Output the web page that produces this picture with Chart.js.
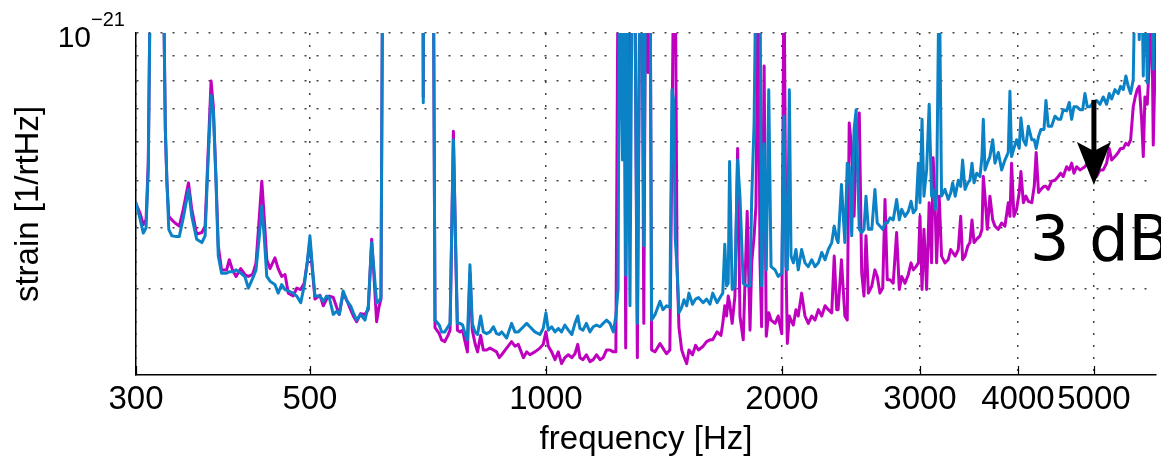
<!doctype html>
<html lang="en">
<head>
<meta charset="utf-8">
<title>strain spectrum</title>
<style>
  body { margin: 0; background: #fff; }
  #wrap { width: 1161px; height: 456px; }
</style>
</head>
<body>
<div id="wrap"><canvas id="myChart" width="1161" height="456"></canvas></div>
<script src="https://cdn.jsdelivr.net/npm/chart.js"></script>
<script>
// frequency [Hz]
const freq = [
  300, 303.5, 306.5, 309, 311, 313, 318, 322, 325, 327,
  328.5, 330.3, 333.3, 336.5, 340.7, 344.7, 350, 353.4, 358.5, 364,
  367.5, 370.3, 374, 376.5, 379.5, 382, 385.7, 391.5, 394.5, 398.3,
  402.5, 408, 413, 417.3, 422.6, 426.8, 431, 434.1, 437.1, 440.5,
  444.7, 451.2, 455.5, 460.2, 464.8, 469.2, 476, 481, 486.7, 491.6,
  496, 500, 504, 507.5, 515, 520, 525.2, 529.2, 535.5, 540.8,
  545, 551.2, 557.8, 563.5, 568, 573.5, 580.3, 587.7, 593.5, 599.4,
  603.5, 608.2, 612.3, 616, 619, 640, 680, 696, 697.5, 699,
  712, 718.5, 722, 731, 736, 743, 750, 754.6, 762, 768,
  771, 777, 783, 788.5, 794, 800, 805.5, 812, 818, 825.5,
  832, 840, 848.6, 857, 865, 872, 878, 891, 904, 913,
  922, 936, 945, 954, 968, 982.5, 992, 1000, 1007, 1017,
  1027, 1037, 1047, 1057, 1068, 1079, 1089, 1098, 1105, 1115,
  1126, 1138, 1149, 1160, 1172, 1183, 1195, 1207, 1219, 1228,
  1236, 1241, 1252, 1258, 1264, 1271, 1280, 1288, 1298, 1308,
  1318, 1326, 1333, 1340, 1350, 1358, 1364, 1378, 1398, 1410,
  1425, 1439, 1448, 1455, 1462, 1470, 1478, 1490, 1500, 1512,
  1522, 1538, 1552, 1565, 1587, 1603, 1619, 1632, 1653, 1672,
  1681, 1691, 1700, 1708, 1715, 1728, 1742, 1756, 1768, 1785,
  1806, 1821, 1830, 1843, 1853, 1866, 1875, 1884, 1898, 1910,
  1924, 1937, 1960, 1978, 1999, 2012, 2024, 2032, 2044, 2054,
  2068, 2084, 2098, 2119, 2140, 2161, 2183, 2204, 2226, 2248,
  2270, 2292, 2315, 2332, 2349, 2359, 2382, 2406, 2423, 2437,
  2455, 2472, 2487, 2510, 2528, 2545, 2560, 2578, 2604, 2628,
  2646, 2667, 2689, 2707, 2725, 2747, 2773, 2801, 2823, 2843,
  2871, 2899, 2922, 2942, 2965, 2986, 3000, 3018, 3035, 3059,
  3082, 3104, 3118, 3137, 3150, 3174, 3196, 3228, 3259, 3283,
  3302, 3327, 3357, 3381, 3400, 3424, 3452, 3474, 3495, 3516,
  3544, 3578, 3599, 3613, 3631, 3656, 3684, 3714, 3739, 3776,
  3813, 3850, 3888, 3907, 3926, 3953, 3984, 4015, 4035, 4064,
  4095, 4124, 4166, 4196, 4220, 4249, 4279, 4318, 4343, 4372,
  4416, 4459, 4503, 4535, 4569, 4615, 4651, 4683, 4715, 4753,
  4799, 4837, 4870, 4904, 4942, 4991, 5040, 5089, 5139, 5190,
  5230, 5267, 5318, 5370, 5408, 5450, 5492, 5530, 5569, 5612,
  5645, 5678, 5712, 5752, 5780, 5808, 5848, 5883, 5918, 5952,
  5981, 6010
]

// strain, in units of 1e-22 /rtHz (values above 10 run off the top of the plot)
const strainPink = [
  4.47, 4.29, 4.06, 4.15, 5.42, 14, 30, 30, 14, 6.35,
  4.95, 4.22, 4.15, 4.09, 4.03, 4.36, 4.94, 4.36, 3.88, 3.91,
  4.03, 5.42, 7.98, 7.07, 5.0, 3.67, 3.28, 3.28, 3.44, 3.28,
  3.18, 3.30, 3.21, 3.18, 3.21, 3.39, 4.22, 4.98, 4.22, 3.44,
  3.30, 3.47, 3.30, 3.18, 3.21, 2.94, 2.90, 3.01, 2.99, 3.08,
  3.39, 3.73, 3.23, 2.86, 2.91, 2.77, 2.86, 2.90, 2.88, 2.75,
  2.66, 2.94, 2.83, 2.72, 2.64, 2.57, 2.67, 2.66, 2.72, 3.79,
  3.18, 2.57, 2.75, 2.86, 14, 40, 40, 40, 7.4, 40,
  40, 14, 2.50, 2.43, 2.36, 2.34, 2.41, 2.47, 6.30, 3.28,
  2.47, 2.45, 2.47, 2.34, 2.23, 3.23, 2.47, 2.32, 2.23, 2.41,
  2.25, 2.25, 2.27, 2.25, 2.23, 2.17, 2.20, 2.27, 2.34, 2.29,
  2.31, 2.17, 2.23, 2.20, 2.23, 2.27, 2.31, 2.45, 2.29, 2.23,
  2.15, 2.23, 2.11, 2.17, 2.20, 2.17, 2.21, 2.31, 2.17, 2.15,
  2.20, 2.13, 2.15, 2.20, 2.15, 2.17, 2.25, 2.25, 2.23, 2.23,
  14, 14, 14, 14, 2.27, 14, 8.2, 14, 14, 2.17,
  14, 14, 2.55, 14, 8.3, 14, 2.25, 2.23, 2.32, 2.27,
  2.21, 2.25, 6.0, 14, 14, 3.3, 2.50, 2.25, 2.18, 2.11,
  2.25, 2.20, 2.30, 2.25, 2.29, 2.34, 2.36, 2.36, 2.45, 2.41,
  2.55, 2.77, 2.64, 2.90, 2.81, 2.55, 2.90, 5.81, 2.64, 2.36,
  4.32, 2.47, 3.39, 3.85, 4.43, 14, 3.44, 2.51, 8.56, 2.40,
  2.68, 2.59, 2.55, 2.64, 2.43, 14, 3.39, 2.32, 2.64, 2.59,
  2.53, 2.72, 2.64, 2.94, 2.64, 2.55, 2.64, 2.59, 2.72, 2.64,
  2.77, 2.72, 2.68, 3.50, 2.72, 2.72, 3.44, 2.64, 2.59, 6.55,
  5.81, 4.22, 5.90, 6.86, 3.23, 2.90, 3.85, 2.94, 3.04, 3.28,
  3.18, 2.94, 3.01, 4.57, 3.13, 3.13, 3.08, 3.91, 2.99, 3.18,
  3.08, 3.21, 3.39, 3.28, 3.33, 3.39, 4.22, 2.99, 3.97, 2.99,
  4.50, 3.39, 5.56, 4.36, 3.39, 4.64, 3.50, 3.39, 3.44, 3.61,
  3.56, 3.50, 3.61, 4.22, 3.44, 3.50, 3.67, 3.73, 4.15, 3.73,
  3.79, 3.85, 3.97, 5.09, 4.64, 3.97, 4.64, 4.15, 4.03, 3.97,
  4.09, 4.03, 4.50, 4.22, 5.42, 4.22, 4.36, 4.72, 5.21, 4.50,
  4.64, 4.53, 4.50, 4.86, 5.70, 4.72, 4.79, 4.86, 4.86, 4.79,
  4.98, 5.0, 5.09, 5.17, 5.09, 5.33, 5.25, 5.42, 5.17, 5.33,
  5.25, 5.29, 5.33, 5.42, 5.25, 5.17, 5.09, 5.25, 5.25, 5.42,
  5.81, 5.5, 5.59, 5.70, 5.81, 5.81, 5.95, 5.90, 6.05, 7.07,
  7.40, 7.66, 7.78, 6.66, 5.59, 7.40, 7.15, 8.69, 14, 5.90,
  8.43, 14
]

const strainBlue = [
  4.50, 4.18, 3.90, 4.00, 5.25, 14, 30, 30, 14, 6.35,
  5.0, 3.97, 3.85, 3.84, 3.84, 4.19, 4.79, 4.22, 3.79, 3.73,
  3.85, 5.25, 7.46, 6.93, 4.95, 3.50, 3.23, 3.23, 3.25, 3.25,
  3.28, 3.23, 3.18, 3.01, 3.15, 3.28, 3.85, 4.43, 3.85, 3.18,
  3.11, 3.06, 2.94, 3.06, 2.99, 2.97, 2.94, 2.90, 2.81, 3.04,
  3.39, 3.85, 3.28, 2.90, 2.90, 2.83, 2.90, 2.88, 2.66, 2.70,
  2.66, 2.97, 2.83, 2.77, 2.68, 2.59, 2.66, 2.59, 2.77, 3.73,
  3.28, 2.81, 2.83, 2.88, 14, 40, 40, 40, 7.2, 40,
  40, 14, 2.59, 2.53, 2.45, 2.45, 2.51, 2.55, 6.05, 3.39,
  2.55, 2.55, 2.53, 2.43, 2.36, 3.36, 2.55, 2.45, 2.42, 2.64,
  2.45, 2.43, 2.45, 2.51, 2.43, 2.42, 2.45, 2.38, 2.55, 2.45,
  2.45, 2.51, 2.55, 2.51, 2.45, 2.42, 2.49, 2.68, 2.47, 2.51,
  2.45, 2.49, 2.45, 2.53, 2.47, 2.42, 2.55, 2.64, 2.49, 2.47,
  2.55, 2.45, 2.51, 2.53, 2.51, 2.55, 2.59, 2.55, 2.45, 2.64,
  3.0, 14, 5.5, 14, 3.2, 14, 2.77, 14, 14, 2.55,
  14, 14, 3.67, 14, 14, 14, 2.59, 2.66, 2.83, 2.72,
  2.77, 2.75, 7.66, 7.3, 3.8, 3.3, 2.68, 2.75, 2.85, 2.77,
  2.94, 2.79, 2.86, 2.88, 2.81, 2.86, 2.79, 2.94, 2.81, 2.90,
  2.94, 3.70, 3.04, 3.08, 5.46, 2.99, 3.04, 5.50, 4.64, 3.08,
  3.04, 3.04, 4.57, 6.55, 14, 14, 14, 3.04, 5.93, 3.28,
  7.66, 3.33, 3.28, 3.18, 3.23, 6.76, 3.33, 3.28, 7.66, 3.50,
  3.39, 3.61, 3.28, 3.61, 3.39, 3.33, 3.44, 3.33, 3.39, 3.56,
  3.44, 3.61, 3.73, 4.03, 3.79, 3.73, 4.90, 3.73, 5.42, 5.33,
  3.85, 6.35, 6.97, 3.97, 3.91, 3.97, 4.64, 3.97, 3.97, 4.79,
  4.09, 4.03, 3.97, 4.09, 4.09, 4.19, 4.15, 4.57, 4.15, 4.36,
  4.22, 4.32, 4.53, 4.29, 4.36, 5.42, 4.50, 6.66, 4.64, 5.25,
  7.15, 4.64, 4.79, 4.36, 4.64, 14, 4.64, 4.79, 4.57, 4.71,
  4.94, 4.64, 5.0, 4.86, 5.5, 4.79, 4.94, 5.0, 5.42, 4.94,
  5.17, 5.09, 5.59, 6.66, 5.25, 5.42, 5.59, 6.05, 5.42, 5.70,
  5.25, 5.5, 5.70, 7.6, 5.59, 5.81, 6.05, 5.81, 6.7, 6.05,
  5.9, 6.45, 6.05, 6.05, 5.81, 6.14, 6.35, 6.35, 7.28, 6.45,
  6.45, 6.76, 6.66, 6.66, 6.97, 6.93, 7.21, 6.66, 7.07, 7.07,
  6.97, 6.97, 7.52, 7.07, 7.07, 7.21, 7.28, 7.15, 7.40, 7.15,
  7.52, 7.33, 7.66, 7.52, 7.78, 7.66, 8.17, 7.78, 7.52, 8.03,
  14, 14, 9.69, 14, 8.17, 14, 7.9, 14, 14, 8.43,
  14, 14
]

const xTickValues = [300, 500, 1000, 2000, 3000, 4000, 5000]
const yGridValues = [3, 4, 5, 6, 7, 8, 9, 10]

// the "3 dB" arrow: frequency, start and end strain
const arrowFreq = 5000
const arrowFrom = 7.3
const arrowTo = 4.89

const sans = '"Liberation Sans", Arial, Helvetica, sans-serif'

const extras = {
  id: 'extras',
  afterDraw(chart) {
    const ctx = chart.ctx
    const xs = chart.scales.x
    const ys = chart.scales.y
    ctx.save()

    // small inward ticks on the x axis
    ctx.strokeStyle = '#000'
    ctx.lineWidth = 1.2
    xTickValues.forEach(v => {
      const px = Math.round(xs.getPixelForValue(v)) + 0.5
      ctx.beginPath()
      ctx.moveTo(px, ys.bottom)
      ctx.lineTo(px, ys.bottom - 9)
      ctx.stroke()
    })

    // 10^-21 label at the top of the y axis
    ctx.fillStyle = '#000'
    ctx.textBaseline = 'alphabetic'
    ctx.font = '30px ' + sans
    ctx.textAlign = 'right'
    ctx.fillText('10', 91, 47)
    ctx.font = '20px ' + sans
    ctx.textAlign = 'left'
    ctx.fillText('\u221221', 91, 26)

    // arrow
    const ax = xs.getPixelForValue(arrowFreq)
    const y0 = ys.getPixelForValue(arrowFrom)
    const y1 = ys.getPixelForValue(arrowTo)
    ctx.lineWidth = 5
    ctx.beginPath()
    ctx.moveTo(ax, y0)
    ctx.lineTo(ax, y1 - 30)
    ctx.stroke()
    ctx.beginPath()
    ctx.moveTo(ax, y1)
    ctx.lineTo(ax - 17, y1 - 43)
    ctx.lineTo(ax, y1 - 34)
    ctx.lineTo(ax + 17, y1 - 43)
    ctx.closePath()
    ctx.fill()

    ctx.font = '62px "DejaVu Sans", sans-serif'
    ctx.textAlign = 'left'
    ctx.fillText('3 dB', 1030, 260)
    ctx.restore()
  }
}

const toPoints = vals => freq.map((f, i) => ({ x: f, y: vals[i] }))

const config = {
  type: 'line',
  data: {
    datasets: [
      {
        label: 'blue',
        data: toPoints(strainBlue),
        borderColor: '#0C82C6',
        borderWidth: 3,
        borderJoinStyle: 'round',
        pointRadius: 0,
        tension: 0,
        clip: 0
      },
      {
        label: 'magenta',
        data: toPoints(strainPink),
        borderColor: '#BF00BF',
        borderWidth: 3,
        borderJoinStyle: 'round',
        pointRadius: 0,
        tension: 0,
        clip: 0
      }
    ]
  },
  options: {
    responsive: false,
    animation: false,
    devicePixelRatio: 1,
    layout: { padding: { left: 0, right: 5, top: 33, bottom: 0 } },
    plugins: {
      legend: { display: false },
      tooltip: { enabled: false }
    },
    scales: {
      x: {
        type: 'logarithmic',
        min: 300,
        max: 6000,
        afterBuildTicks: s => { s.ticks = xTickValues.map(v => ({ value: v })) },
        afterFit: s => { s.height = 81 },
        ticks: {
          autoSkip: false,
          maxRotation: 0,
          padding: 8,
          color: '#000',
          font: { family: sans, size: 33, lineHeight: 1 },
          callback: v => String(v)
        },
        grid: { color: '#444', lineWidth: 1.5, drawTicks: false },
        border: { display: true, color: '#000', width: 1.5, dash: [2, 10] },
        title: {
          display: true,
          text: 'frequency [Hz]',
          color: '#000',
          font: { family: sans, size: 33, lineHeight: 1 },
          padding: { top: 0, bottom: 0 }
        }
      },
      y: {
        type: 'logarithmic',
        min: 2,
        max: 10,
        afterBuildTicks: s => { s.ticks = yGridValues.map(v => ({ value: v })) },
        afterFit: s => { s.width = 136 },
        ticks: { display: false },
        grid: { color: '#444', lineWidth: 1.5, drawTicks: false },
        border: { display: true, color: '#000', width: 1.5, dash: [2, 10] },
        title: {
          display: true,
          text: 'strain [1/rtHz]',
          color: '#000',
          font: { family: sans, size: 33, lineHeight: 1 },
          padding: { top: 12, bottom: 0 }
        }
      }
    }
  },
  plugins: [extras]
}

const myChart = new Chart(document.getElementById('myChart'), config)
</script>
</body>
</html>
